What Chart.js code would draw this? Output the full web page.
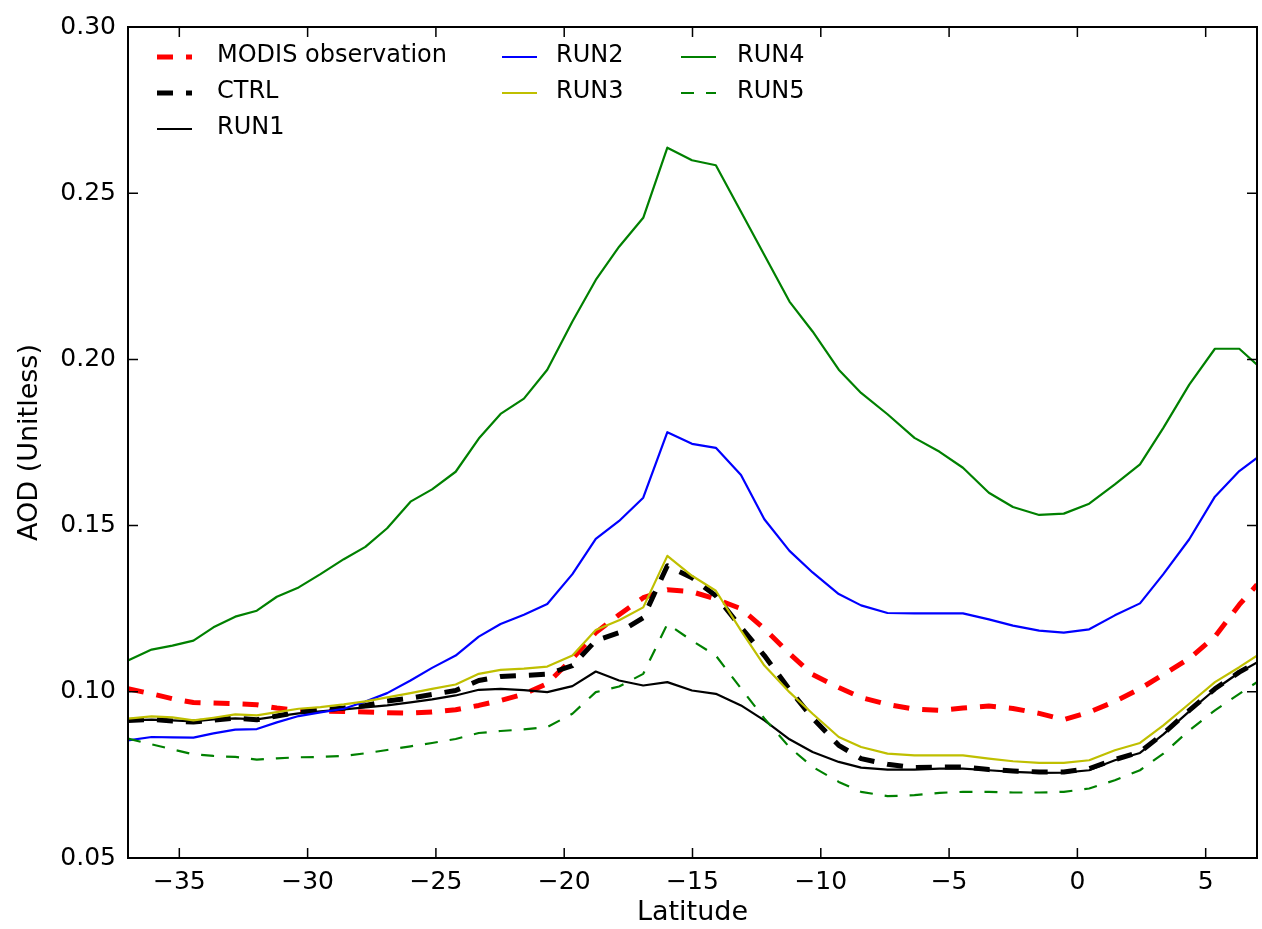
<!DOCTYPE html>
<html>
<head>
<meta charset="utf-8">
<script src="https://cdn.jsdelivr.net/npm/chart.js@4.4.1/dist/chart.umd.min.js"></script>
<style>
  html, body { margin: 0; padding: 0; background: #fff; }
  #wrap { width: 1262px; height: 929px; position: relative; }
</style>
</head>
<body>
<div id="wrap"><canvas id="aodChart"></canvas></div>
<script>
// latitude grid of the model output (degrees)
const latitude = [-37.0, -36.08, -35.27, -34.45, -33.67, -32.82, -31.98, -31.2, -30.35, -29.5,
  -28.59, -27.75, -26.9, -25.99, -25.15, -24.23, -23.33, -22.48, -21.57, -20.66,
  -19.68, -18.77, -17.86, -16.92, -15.98, -15.02, -14.09, -13.11, -12.2, -11.22,
  -10.32, -9.3, -8.43, -7.4, -6.35, -5.37, -4.46, -3.45, -2.51, -1.49,
  -0.53, 0.46, 1.46, 2.44, 3.35, 4.36, 5.36, 6.31, 7.0];

const modis = [0.1009, 0.0994, 0.0979, 0.0968, 0.0966, 0.0964, 0.0961, 0.0951, 0.0944, 0.0942,
  0.0941, 0.0939, 0.0937, 0.0936, 0.0939, 0.0946, 0.0959, 0.0974, 0.0993, 0.1025,
  0.1100, 0.1178, 0.1232, 0.1283, 0.1307, 0.1301, 0.1279, 0.1250, 0.1190, 0.1115,
  0.1052, 0.1013, 0.0983, 0.0962, 0.0948, 0.0944, 0.0951, 0.0957, 0.0950, 0.0935,
  0.0916, 0.0939, 0.0971, 0.1009, 0.1052, 0.1100, 0.1166, 0.1262, 0.1322];

const ctrl = [0.0914, 0.0917, 0.0912, 0.0909, 0.0915, 0.0921, 0.0916, 0.0927, 0.0939, 0.0945,
  0.0951, 0.0959, 0.0972, 0.0981, 0.0992, 0.1004, 0.1034, 0.1046, 0.1049, 0.1053,
  0.1079, 0.1154, 0.1178, 0.1223, 0.1379, 0.1343, 0.1289, 0.1194, 0.1109, 0.1007,
  0.0921, 0.0839, 0.0799, 0.0782, 0.0772, 0.0774, 0.0774, 0.0766, 0.0762, 0.0759,
  0.0759, 0.0769, 0.0796, 0.0819, 0.0874, 0.0944, 0.1009, 0.1059, 0.1089];

const run1 = [0.0914, 0.0916, 0.0914, 0.0911, 0.0917, 0.0920, 0.0917, 0.0926, 0.0935, 0.0941,
  0.0947, 0.0953, 0.0959, 0.0968, 0.0977, 0.0989, 0.1006, 0.1009, 0.1005, 0.0999,
  0.1017, 0.1061, 0.1034, 0.1019, 0.1029, 0.1004, 0.0994, 0.0959, 0.0914, 0.0857,
  0.0819, 0.0789, 0.0772, 0.0766, 0.0766, 0.0769, 0.0769, 0.0764, 0.0759, 0.0756,
  0.0757, 0.0764, 0.0794, 0.0816, 0.0872, 0.0941, 0.1007, 0.1058, 0.1088];

const run2 = [0.0854, 0.0864, 0.0863, 0.0862, 0.0875, 0.0886, 0.0888, 0.0908, 0.0927, 0.0938,
  0.0949, 0.0971, 0.0996, 0.1034, 0.1072, 0.1109, 0.1166, 0.1204, 0.1232, 0.1264,
  0.1354, 0.1460, 0.1514, 0.1584, 0.1781, 0.1746, 0.1734, 0.1652, 0.1519, 0.1424,
  0.1359, 0.1294, 0.1260, 0.1237, 0.1236, 0.1236, 0.1236, 0.1218, 0.1199, 0.1184,
  0.1178, 0.1188, 0.1230, 0.1266, 0.1354, 0.1459, 0.1587, 0.1664, 0.1704];

const run3 = [0.0919, 0.0926, 0.0923, 0.0914, 0.0922, 0.0932, 0.0929, 0.0939, 0.0949, 0.0954,
  0.0962, 0.0971, 0.0983, 0.0996, 0.1009, 0.1022, 0.1054, 0.1066, 0.1070, 0.1076,
  0.1109, 0.1186, 0.1215, 0.1254, 0.1409, 0.1349, 0.1304, 0.1184, 0.1079, 0.0999,
  0.0934, 0.0864, 0.0834, 0.0814, 0.0809, 0.0809, 0.0809, 0.0799, 0.0791, 0.0786,
  0.0786, 0.0794, 0.0824, 0.0846, 0.0899, 0.0964, 0.1029, 0.1074, 0.1109];

const run4 = [0.1094, 0.1127, 0.1139, 0.1154, 0.1194, 0.1226, 0.1244, 0.1286, 0.1314, 0.1354,
  0.1399, 0.1436, 0.1492, 0.1572, 0.1609, 0.1662, 0.1762, 0.1836, 0.1882, 0.1969,
  0.2114, 0.2239, 0.2339, 0.2426, 0.2637, 0.2599, 0.2584, 0.2444, 0.2314, 0.2174,
  0.2084, 0.1969, 0.1899, 0.1835, 0.1764, 0.1722, 0.1674, 0.1599, 0.1556, 0.1532,
  0.1536, 0.1566, 0.1624, 0.1684, 0.1794, 0.1924, 0.2032, 0.2032, 0.1984];

const run5 = [0.0859, 0.0842, 0.0827, 0.0812, 0.0807, 0.0804, 0.0796, 0.0800, 0.0803, 0.0804,
  0.0807, 0.0815, 0.0825, 0.0836, 0.0846, 0.0858, 0.0876, 0.0882, 0.0887, 0.0894,
  0.0934, 0.0999, 0.1016, 0.1054, 0.1204, 0.1154, 0.1109, 0.1010, 0.0920, 0.0833,
  0.0774, 0.0729, 0.0699, 0.0686, 0.0689, 0.0696, 0.0699, 0.0699, 0.0697, 0.0697,
  0.0699, 0.0709, 0.0734, 0.0764, 0.0814, 0.0884, 0.0944, 0.0994, 0.1029];

const seriesNames = ["MODIS observation", "CTRL", "RUN1", "RUN2", "RUN3", "RUN4", "RUN5"];
const seriesValues = [modis, ctrl, run1, run2, run3, run4, run5];

const xTicks = [-35, -30, -25, -20, -15, -10, -5, 0, 5];
const yTicks = [0.05, 0.10, 0.15, 0.20, 0.25, 0.30];

// line styles, same order as seriesNames
const styles = [
  { color: "#ff0000", width: 5, dash: [16, 13] },
  { color: "#000000", width: 5, dash: [16, 13] },
  { color: "#000000", width: 2.2, dash: [] },
  { color: "#0000ff", width: 2.2, dash: [] },
  { color: "#bfbf00", width: 2.2, dash: [] },
  { color: "#008000", width: 2.2, dash: [] },
  { color: "#008000", width: 2.2, dash: [13, 12] },
];

const FONT = "'DejaVu Sans', sans-serif";
const TICK_LEN = 10;
const HANDLE_LEN = 35;

// legend slots: column-major, 3 columns like the matplotlib legend
const legendSlots = [
  { x: 157, y: 57, textX: 217 },
  { x: 157, y: 93, textX: 217 },
  { x: 157, y: 129, textX: 217 },
  { x: 502, y: 57, textX: 556 },
  { x: 502, y: 93, textX: 556 },
  { x: 681, y: 57, textX: 737 },
  { x: 681, y: 93, textX: 737 },
];

function toPoints(values) {
  return values.map((v, i) => ({ x: latitude[i], y: v }));
}

function minusSign(v) {
  return String(v).replace("-", "\u2212");
}

const frameAndLegend = {
  id: "frameAndLegend",
  afterDatasetsDraw(chart) {
    const { ctx, chartArea: a, scales } = chart;
    ctx.save();

    // inward ticks on all four sides
    ctx.strokeStyle = "#000";
    ctx.lineWidth = 1.5;
    ctx.beginPath();
    for (const t of scales.x.ticks) {
      const px = scales.x.getPixelForValue(t.value);
      ctx.moveTo(px, a.bottom);
      ctx.lineTo(px, a.bottom - TICK_LEN);
      ctx.moveTo(px, a.top);
      ctx.lineTo(px, a.top + TICK_LEN);
    }
    for (const t of scales.y.ticks) {
      const py = scales.y.getPixelForValue(t.value);
      ctx.moveTo(a.left, py);
      ctx.lineTo(a.left + TICK_LEN, py);
      ctx.moveTo(a.right, py);
      ctx.lineTo(a.right - TICK_LEN, py);
    }
    ctx.stroke();

    ctx.lineWidth = 2;
    ctx.strokeRect(a.left, a.top, a.right - a.left, a.bottom - a.top);

    // legend
    ctx.font = "24px " + FONT;
    ctx.textBaseline = "middle";
    ctx.fillStyle = "#000";
    chart.data.datasets.forEach((ds, i) => {
      const slot = legendSlots[i];
      ctx.beginPath();
      ctx.strokeStyle = ds.borderColor;
      ctx.lineWidth = ds.borderWidth;
      ctx.setLineDash(ds.borderDash);
      ctx.lineCap = "butt";
      ctx.moveTo(slot.x, slot.y);
      ctx.lineTo(slot.x + HANDLE_LEN, slot.y);
      ctx.stroke();
      ctx.setLineDash([]);
      ctx.fillText(ds.label, slot.textX, slot.y - 1);
    });

    ctx.restore();
  },
};

const datasets = seriesNames.map((name, i) => ({
  label: name,
  data: toPoints(seriesValues[i]),
  borderColor: styles[i].color,
  borderWidth: styles[i].width,
  borderDash: styles[i].dash,
  borderCapStyle: "butt",
  borderJoinStyle: "round",
  pointRadius: 0,
  tension: 0,
  fill: false,
  clip: 0,
  order: 10 - i,
}));

new Chart(document.getElementById("aodChart"), {
  type: "line",
  data: { datasets },
  options: {
    responsive: true,
    maintainAspectRatio: false,
    devicePixelRatio: 1,
    animation: false,
    layout: { padding: { top: 25, right: 5, left: 0, bottom: 0 } },
    plugins: {
      legend: { display: false },
      tooltip: { enabled: false },
    },
    scales: {
      x: {
        type: "linear",
        min: -37,
        max: 7,
        afterBuildTicks: (scale) => {
          scale.ticks = xTicks.map((v) => ({ value: v }));
        },
        afterFit: (scale) => {
          scale.height = 71;
        },
        grid: { display: false, drawTicks: false },
        border: { display: false },
        ticks: {
          color: "#000",
          font: { family: FONT, size: 25 },
          padding: 9,
          maxRotation: 0,
          autoSkip: false,
          callback: (v) => minusSign(v),
        },
        title: {
          display: true,
          text: "Latitude",
          color: "#000",
          font: { family: FONT, size: 27 },
          padding: { top: 0, bottom: 0 },
        },
      },
      y: {
        type: "linear",
        min: 0.05,
        max: 0.3,
        afterBuildTicks: (scale) => {
          scale.ticks = yTicks.map((v) => ({ value: v }));
        },
        afterFit: (scale) => {
          scale.width = 128;
        },
        grid: { display: false, drawTicks: false },
        border: { display: false },
        ticks: {
          color: "#000",
          font: { family: FONT, size: 25 },
          padding: 12,
          autoSkip: false,
          callback: (v) => v.toFixed(2),
        },
        title: {
          display: true,
          text: "AOD (Unitless)",
          color: "#000",
          font: { family: FONT, size: 27 },
          padding: { top: 14, bottom: 0 },
        },
      },
    },
  },
  plugins: [frameAndLegend],
});
</script>
</body>
</html>
